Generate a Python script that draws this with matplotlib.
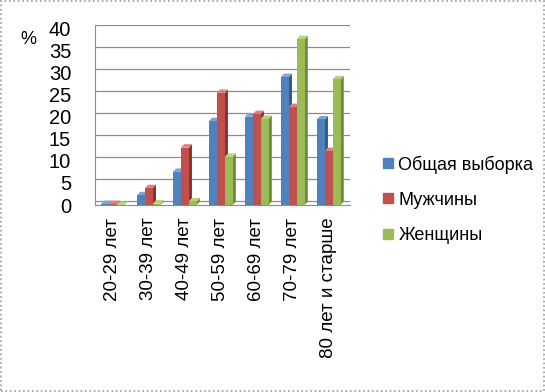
import matplotlib
matplotlib.use("Agg")
import matplotlib.pyplot as plt
import numpy as np
from matplotlib.patches import Polygon, Rectangle
from matplotlib.lines import Line2D

plt.rcParams['font.family'] = ['Liberation Sans', 'DejaVu Sans']

categories = ['20-29 лет', '30-39 лет', '40-49 лет', '50-59 лет',
              '60-69 лет', '70-79 лет', '80 лет и старше']
total = [0.2, 2.2, 7.5, 19.0, 20.0, 29.0, 19.4]
men = [0.2, 3.8, 13.0, 25.4, 20.6, 22.2, 12.2]
women = [0.0, 0.3, 0.8, 10.9, 19.5, 37.6, 28.5]
series_names = ['Общая выборка', 'Мужчины', 'Женщины']
colors = ['#4F81BD', '#C0504D', '#9BBB59']
side_colors = ['#2F5C8F', '#8E2F2C', '#6E8C38']
top_colors = ['#7FA3D3', '#D98482', '#B8D27E']

fig = plt.figure(figsize=(5.45, 3.92), dpi=100)
ax = fig.add_axes([0.174, 0.477, 0.468, 0.459])

x = np.arange(len(categories))
w = 0.22
dx = 0.09   # depth offset in x (category units)
dy = 0.8    # depth offset in y (value units)

for s, vals in enumerate([total, men, women]):
    for i, v in enumerate(vals):
        x0 = x[i] - 1.5 * w + s * w
        # side face first, then front, then top
        ax.add_patch(Polygon([(x0 + w, 0), (x0 + w + dx, dy), (x0 + w + dx, v + dy), (x0 + w, v)],
                             closed=True, facecolor=side_colors[s], edgecolor='none', zorder=3 + s))
        ax.add_patch(Polygon([(x0, v), (x0 + dx, v + dy), (x0 + w + dx, v + dy), (x0 + w, v)],
                             closed=True, facecolor=top_colors[s], edgecolor='none', zorder=3 + s))
        ax.bar(x0, v, width=w, align='edge', color=colors[s], zorder=3 + s, linewidth=0)

ax.set_xlim(-0.5, len(categories) - 0.5 + dx)
ax.set_ylim(0, 40 + dy)
ax.set_yticks(range(0, 41, 5))
ax.set_yticklabels([str(t) for t in range(0, 41, 5)], fontsize=14.5)
ax.tick_params(axis='y', length=0, pad=17)
ax.set_xticks(x)
ax.set_xticklabels(categories, rotation=90, fontsize=13.5)
ax.tick_params(axis='x', length=0, pad=9)

for t in range(0, 41, 5):
    ax.axhline(t + dy, color='#8C8C8C', linewidth=0.9, zorder=1)
for sp in ['top', 'right']:
    ax.spines[sp].set_visible(False)
ax.spines['left'].set_color('#8C8C8C')
ax.spines['bottom'].set_color('#8C8C8C')

fig.text(0.038, 0.888, '%', fontsize=13)

handles = [Line2D([0], [0], marker='s', linestyle='none', markersize=7,
                  markerfacecolor=c, markeredgecolor=c) for c in colors]
fig.legend(handles, series_names, loc='upper left', bbox_to_anchor=(0.668, 0.645),
           frameon=False, fontsize=13, handletextpad=0.2, labelspacing=1.0,
           handlelength=0.8)

fig.patches.append(Rectangle((0.002, 0.002), 0.996, 0.996, transform=fig.transFigure,
                             fill=False, edgecolor='#9A9A9A', linewidth=1.2, linestyle=':'))

fig.savefig('out.png', dpi=100)
